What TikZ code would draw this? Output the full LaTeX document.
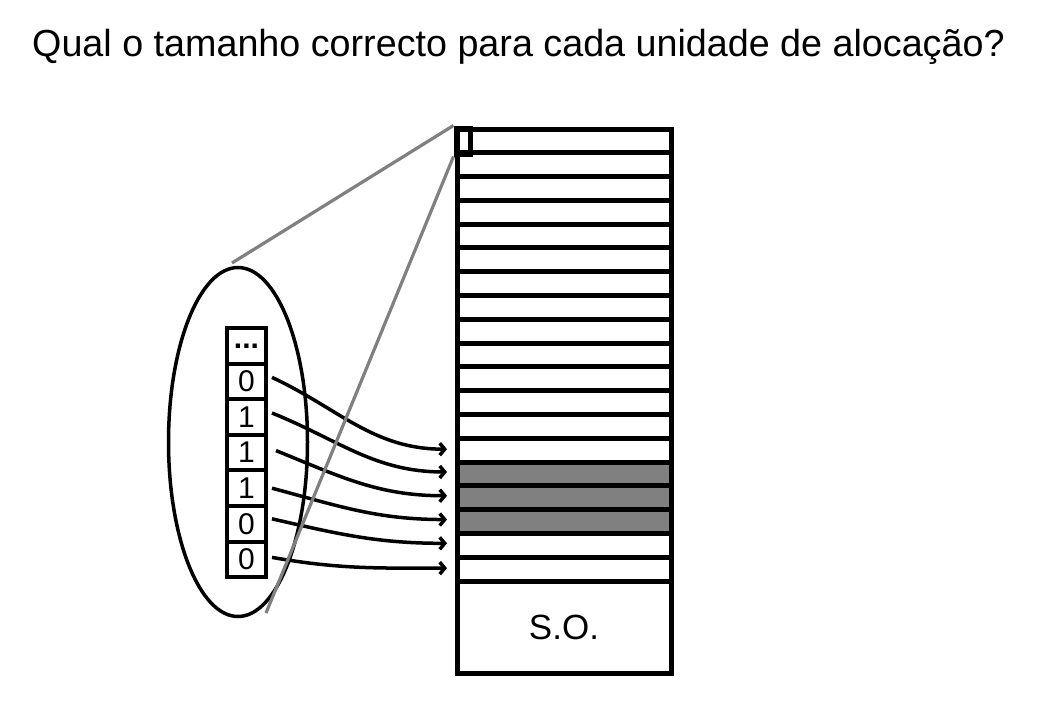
\documentclass[tikz,border=0pt]{standalone}
\usepackage{fontspec}
\setmainfont{Liberation Sans}
\usetikzlibrary{shapes.geometric,arrows.meta}
\begin{document}
\begin{tikzpicture}[x=1pt,y=-1pt,
 rowbox/.style={draw=black,line width=5pt,minimum width=214pt,minimum height=23.79pt,inner sep=0pt,outer sep=0pt},
 usedrow/.style={rowbox,fill=gray},
 cell/.style={draw=black,line width=4pt,minimum width=39pt,minimum height=35.6pt,inner sep=0pt,outer sep=0pt,font=\fontsize{30}{30}\selectfont},
 link/.style={line width=3.5pt,-{Straight Barb[length=5pt,width=12pt]}},
 zoomline/.style={draw=gray,line width=3.2pt}]
\path[fill=white,use as bounding box] (0,0) rectangle (1037,717);
\node[anchor=base west,font=\fontsize{37.7}{45}\selectfont,inner sep=0pt] (title) at (32,57) {Qual o tamanho correcto para cada unidade de alocação?};
% disk column
\foreach \i in {0,...,18} \node[rowbox] (r\i) at (564,{129+(\i+0.5)*23.79}) {};
\foreach \i in {14,15,16} \node[usedrow] (u\i) at (564,{129+(\i+0.5)*23.79}) {};
\node[rowbox,minimum height=92pt,font=\fontsize{35}{40}\selectfont] (so) at (564,627) {S.O.};
% ellipse and bitmap
\node[ellipse,draw=black,line width=3.5pt,minimum width=139pt,minimum height=349pt,inner sep=0pt] (ell) at (238,442) {};
\node[cell] (c0) at (246.5,345.8) {\textbf{...}};
\node[cell] (c1) at (246.5,381.4) {0};
\node[cell] (c2) at (246.5,417.0) {1};
\node[cell] (c3) at (246.5,452.6) {1};
\node[cell] (c4) at (246.5,488.2) {1};
\node[cell] (c5) at (246.5,523.8) {0};
\node[cell] (c6) at (246.5,559.4) {0};
% arrows
\draw[link] ([xshift=6pt,yshift=4pt]c1.east) to[out=-25,in=180] ([xshift=-10pt,yshift=1pt]r13.west);
\draw[link] ([xshift=6pt,yshift=4pt]c2.east) to[out=-22,in=180] ([xshift=-10pt,yshift=2pt]r14.west);
\draw[link] ([xshift=10pt,yshift=2pt]c3.east) to[out=-22,in=180] ([xshift=-10pt,yshift=2pt]r15.west);
\draw[link] ([xshift=6pt]c4.east) to[out=-15,in=180] ([xshift=-10pt,yshift=2pt]r16.west);
\draw[link] ([xshift=6pt,yshift=5pt]c5.east) to[out=-13,in=180] ([xshift=-10pt,yshift=2pt]r17.west);
\draw[link] ([xshift=6pt,yshift=2pt]c6.east) to[out=-10,in=180] ([xshift=-10pt,yshift=1pt]r18.west);
% zoom lines
\node[draw=black,line width=5pt,minimum width=14pt,minimum height=26pt,inner sep=0pt] (sq) at (463,141) {};
\coordinate (ga) at (232,263);
\coordinate (gb) at (266,613);
\draw[zoomline] (sq.north west) -- (ga);
\draw[zoomline] (sq.south west) -- (gb);
\end{tikzpicture}
\end{document}
